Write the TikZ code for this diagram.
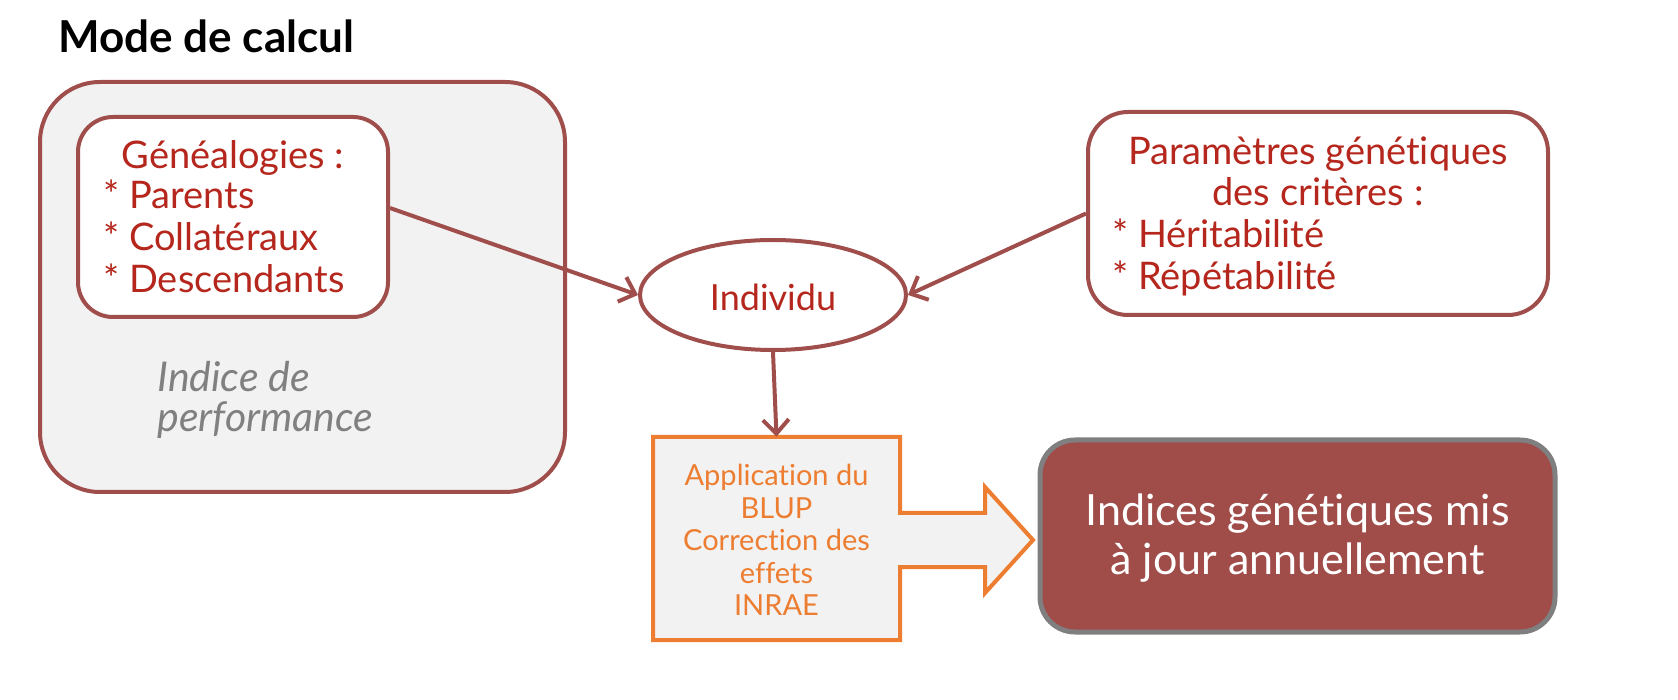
\documentclass[tikz,border=0pt]{standalone}
\usepackage{fontspec}
\setmainfont{Lato}[Ligatures=NoCommon]
\usetikzlibrary{arrows.meta,shapes.geometric}
\definecolor{brownred}{HTML}{A04E4C}
\definecolor{txtred}{HTML}{B5261C}
\definecolor{boxgray}{HTML}{F2F2F2}
\definecolor{orangeline}{HTML}{ED7D31}
\definecolor{finalfill}{HTML}{A04D4A}
\definecolor{finalline}{HTML}{7F7F7F}
\definecolor{italgray}{HTML}{808080}
\tikzset{
  frame/.style={draw=brownred, line width=2pt, rounded corners=#1},
  redtxt/.style={text=txtred, font=\fontsize{19}{22}\selectfont, inner sep=0pt},
  conn/.style={draw=brownred, line width=2pt, -{Straight Barb[length=7pt,width=13pt,line width=2pt]}},
  itxt/.style={anchor=base west, inner sep=0pt, text=italgray, font=\fontsize{20.5}{24}\itshape\selectfont},
}
\begin{document}
\begin{tikzpicture}[x=0.5pt,y=-0.5pt]
\useasboundingbox (0,0) rectangle (1678,700);
% title
\node[anchor=base west, inner sep=0pt, font=\fontsize{22}{26}\bfseries\selectfont] (title) at (58,53) {Mode de calcul};
% big box
\node[frame=30pt, fill=boxgray, minimum width=262.5pt, minimum height=205pt] (big) at (302.5,287) {};
% genealogies box
\node[frame=17.5pt, fill=white, minimum width=155pt, minimum height=100pt] (gen) at (233,217) {};
\node[redtxt, anchor=base] (gent) at (233,169) {Généalogies :};
\node[redtxt, anchor=base west] (g1) at (103,209) {* Parents};
\node[redtxt, anchor=base west] (g2) at (103,251) {* Collatéraux};
\node[redtxt, anchor=base west] (g3) at (103,293) {* Descendants};
% indice de performance
\node[itxt] (ip1) at (157,392) {Indice de};
\node[itxt] (ip2) at (157,432) {performance};
% individu
\node[ellipse, draw=brownred, line width=2pt, fill=white, minimum width=133pt, minimum height=55pt, inner sep=0pt] (ind) at (773,295) {};
\node[redtxt, font=\fontsize{18}{21}\selectfont] (indt) at (773,297) {Individu};
% parametres box
\node[frame=20pt, fill=white, minimum width=230pt, minimum height=101.5pt] (par) at (1318,213.5) {};
\node[redtxt, anchor=base] (p1) at (1318,165) {Paramètres génét\kern0pt iques};
\node[redtxt, anchor=base] (p2) at (1318,206) {des critères :};
\node[redtxt, anchor=base west] (p3) at (1112,248) {* Héritabilité};
\node[redtxt, anchor=base west] (p4) at (1112,290) {* Répétabilité};
% BLUP box with arrow
\node[minimum width=123.5pt, minimum height=101.5pt, inner sep=0pt] (blup) at (776.5,538.5) {};
\draw[draw=orangeline, fill=boxgray, line width=2pt, line join=miter]
  (653,437) -- (900,437) -- (900,513) -- (985,513) -- (985,487) -- (1033,540)
  -- (985,593) -- (985,567) -- (900,567) -- (900,640) -- (653,640) -- cycle;
\node[align=center, text=orangeline, inner sep=0pt, font=\fontsize{14.5}{16.2}\selectfont] (blupt) at (776.5,540) {Application du\\BLUP\\Correction des\\effets\\INRAE};
% final box
\node[draw=finalline, line width=2.5pt, rounded corners=17.5pt, fill=finalfill, minimum width=257.5pt, minimum height=96pt] (fin) at (1297.5,536) {};
\node[align=center, text=white, inner sep=0pt, font=\fontsize{21.5}{24.5}\selectfont] (fint) at (1297.5,538) {Indices génét\kern0pt iques mis\\à jour annuellement};
% connectors
\draw[conn] ([yshift=4.5pt]gen.east) -- (ind.west);
\draw[conn] (par.west) -- (ind.east);
\draw[conn] (ind.south) -- (blup.north);
\end{tikzpicture}
\end{document}
